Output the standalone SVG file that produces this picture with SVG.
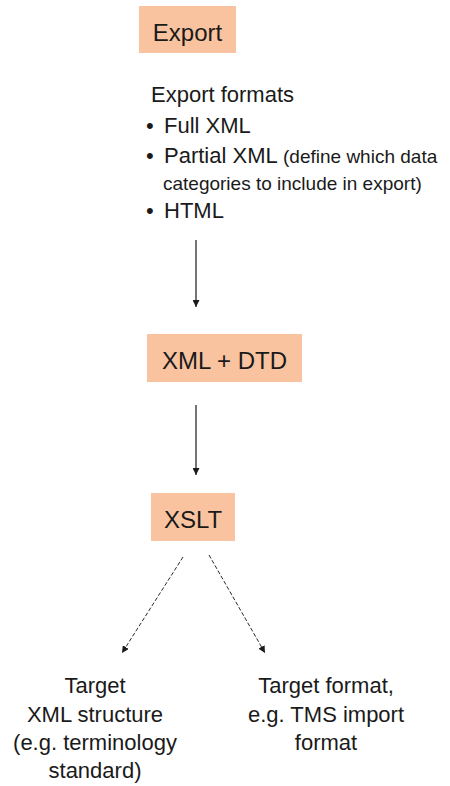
<svg xmlns="http://www.w3.org/2000/svg" width="450" height="786" viewBox="0 0 450 786">
<defs>
<style>
.box{fill:#F9C3A0;stroke:none}
text{font-family:"Liberation Sans",Arial,sans-serif;fill:#1a1a1a}
.t24{font-size:24px}
.t22{font-size:22px}
.t19{font-size:19px}
.c{text-anchor:middle}
.conn{stroke:#2a2a2a;stroke-width:1.3;fill:none}
.dash{stroke-dasharray:4 2;stroke-width:1}
</style>
<marker id="ah" viewBox="0 0 10 10" refX="10" refY="5" markerWidth="7" markerHeight="7" orient="auto" markerUnits="userSpaceOnUse">
<path d="M0,0 L10,5 L0,10 Z" fill="#1a1a1a"/>
</marker>
</defs>
<rect width="450" height="786" fill="#ffffff"/>
<g id="export">
<rect class="box" x="139" y="6" width="97" height="47"/>
<text class="t24 c" x="187.5" y="41">Export</text>
</g>
<g id="formats">
<text class="t22" x="151" y="102">Export formats</text>
<text class="t22" x="146" y="133">•</text>
<text class="t22" x="164" y="133">Full XML</text>
<text class="t22" x="146" y="163">•</text>
<text x="164" y="163"><tspan class="t22">Partial XML </tspan><tspan class="t19">(define which data</tspan></text>
<text class="t19" x="163" y="190">categories to include in export)</text>
<text class="t22" x="146" y="218">•</text>
<text class="t22" x="164" y="218">HTML</text>
</g>
<g id="xmldtd">
<rect class="box" x="147" y="334" width="155" height="48"/>
<text class="t24 c" x="224.5" y="369">XML + DTD</text>
</g>
<g id="xslt">
<rect class="box" x="151" y="493" width="84" height="48"/>
<text class="t24 c" x="193" y="528">XSLT</text>
</g>
<g id="target-xml">
<text class="t22 c" x="95" y="693">Target</text>
<text class="t22 c" x="95" y="722">XML structure</text>
<text class="t22 c" x="95" y="750">(e.g. terminology</text>
<text class="t22 c" x="95" y="778">standard)</text>
</g>
<g id="target-format">
<text class="t22 c" x="326" y="693">Target format,</text>
<text class="t22 c" x="326" y="722">e.g. TMS import</text>
<text class="t22 c" x="326" y="750">format</text>
</g>
<g id="connectors">
<line class="conn" x1="196" y1="240" x2="196" y2="307" marker-end="url(#ah)"/>
<line class="conn" x1="196" y1="405" x2="196" y2="475" marker-end="url(#ah)"/>
<line class="conn dash" x1="183" y1="557" x2="122" y2="653" marker-end="url(#ah)"/>
<line class="conn dash" x1="209" y1="555" x2="265" y2="653" marker-end="url(#ah)"/>
</g>
</svg>
